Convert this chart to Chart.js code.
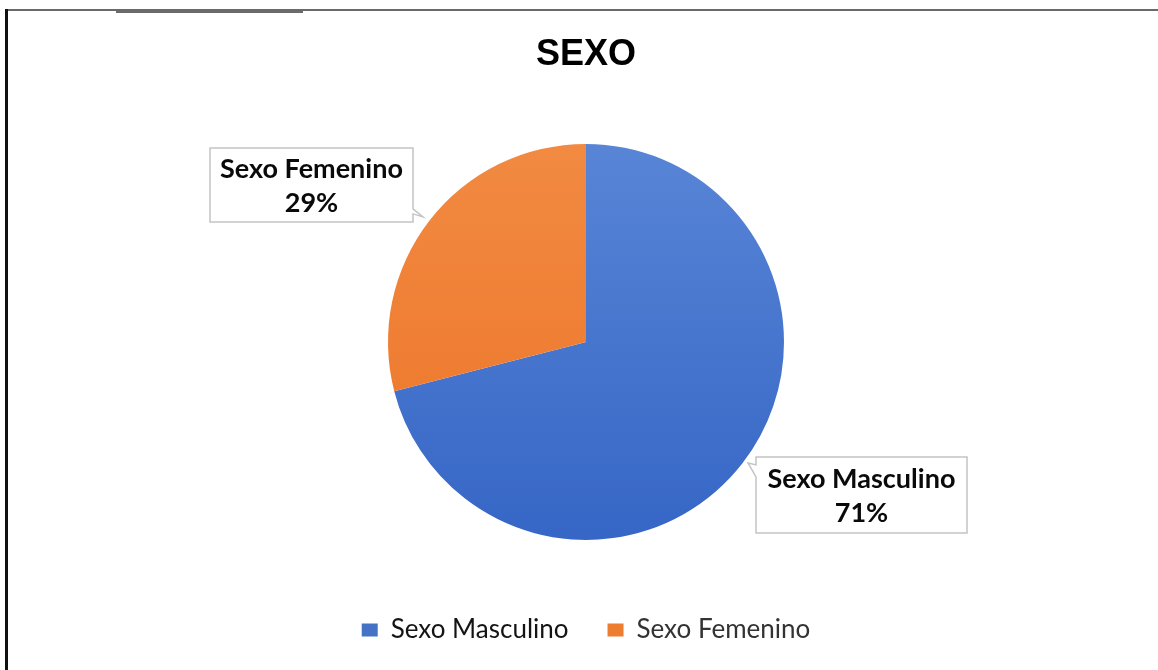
<!DOCTYPE html>
<html>
<head>
<meta charset="utf-8">
<script src="https://cdn.jsdelivr.net/npm/chart.js@4.4.1/dist/chart.umd.min.js"></script>
<style>
  html, body { margin: 0; padding: 0; background: #ffffff; }
  #wrap { width: 1158px; height: 670px; position: relative; }
</style>
</head>
<body>
<div id="wrap"><canvas id="c" width="1158" height="670"></canvas></div>
<script>
// ---- data ----
const chartTitle = 'SEXO';
const categories = ['Sexo Masculino', 'Sexo Femenino'];
const values = [71, 29];
const legendColors = ['#4472C4', '#ED7D31'];
const sliceColorsTop = ['#5885d6', '#f28a42'];
const sliceColorsBottom = ['#3666c6', '#ec7427'];

// ---- plugins ----
const framePlugin = {
  id: 'frame',
  beforeDraw(chart) {
    const ctx = chart.ctx;
    ctx.save();
    ctx.fillStyle = '#ffffff';
    ctx.fillRect(0, 0, chart.width, chart.height);
    ctx.strokeStyle = '#6a6a6a';
    ctx.lineWidth = 2;
    ctx.beginPath(); ctx.moveTo(5, 10); ctx.lineTo(chart.width, 10); ctx.stroke();
    ctx.strokeStyle = '#3a3a3a';
    ctx.lineWidth = 1.5;
    ctx.beginPath(); ctx.moveTo(116, 12); ctx.lineTo(303, 12); ctx.stroke();
    ctx.strokeStyle = '#111111';
    ctx.lineWidth = 3;
    ctx.beginPath(); ctx.moveTo(6.5, 9); ctx.lineTo(6.5, chart.height); ctx.stroke();
    ctx.restore();
  }
};

const calloutPlugin = {
  id: 'callouts',
  afterDatasetsDraw(chart, args, opts) {
    const ctx = chart.ctx;
    const meta = chart.getDatasetMeta(0);
    const data = chart.data.datasets[0].data;
    const total = data.reduce((a, b) => a + b, 0);
    ctx.save();
    meta.data.forEach((arc, i) => {
      const b = opts.boxes[i];
      const cx = arc.x + b.dx, cy = arc.y + b.dy;
      const l = cx - b.w / 2, r = cx + b.w / 2, t = cy - b.h / 2, bt = cy + b.h / 2;
      ctx.beginPath();
      if (b.pointer === 'bottomright') {
        ctx.moveTo(l, t); ctx.lineTo(r, t); ctx.lineTo(r, bt - 13);
        ctx.lineTo(r + 10, bt - 5); ctx.lineTo(r, bt - 8);
        ctx.lineTo(r, bt); ctx.lineTo(l, bt); ctx.closePath();
      } else {
        ctx.moveTo(l, t); ctx.lineTo(r, t); ctx.lineTo(r, bt); ctx.lineTo(l, bt);
        ctx.lineTo(l, t + 20); ctx.lineTo(l - 8, t + 6); ctx.lineTo(l, t + 8);
        ctx.closePath();
      }
      ctx.fillStyle = '#ffffff';
      ctx.fill();
      ctx.strokeStyle = '#c4c4c4';
      ctx.lineWidth = 1.5;
      ctx.stroke();
      ctx.fillStyle = '#0a0a0a';
      ctx.font = 'bold 27px Lato';
      ctx.textAlign = 'center';
      ctx.textBaseline = 'alphabetic';
      const pct = Math.round(data[i] / total * 100) + '%';
      ctx.fillText(chart.data.labels[i], cx, cy - 6.5);
      ctx.fillText(pct, cx, cy + 27);
    });
    ctx.restore();
  }
};

function sliceGradient(context) {
  const chart = context.chart;
  const i = context.dataIndex;
  const area = chart.chartArea;
  if (!area || !isFinite(area.top) || !isFinite(area.bottom)) return sliceColorsTop[i];
  const cy = (area.top + area.bottom) / 2;
  const g = chart.ctx.createLinearGradient(0, cy - 200, 0, cy + 200);
  g.addColorStop(0, sliceColorsTop[i]);
  g.addColorStop(1, sliceColorsBottom[i]);
  return g;
}

new Chart(document.getElementById('c'), {
  type: 'pie',
  data: {
    labels: categories,
    datasets: [{
      data: values,
      backgroundColor: sliceGradient,
      borderWidth: 0,
      radius: 198
    }]
  },
  plugins: [framePlugin, calloutPlugin],
  options: {
    responsive: false,
    animation: false,
    layout: { padding: { top: 10, bottom: 17, left: 14, right: 0 } },
    plugins: {
      tooltip: { enabled: false },
      title: {
        display: true,
        text: chartTitle,
        color: '#000000',
        font: { family: 'Liberation Sans', size: 36, weight: 'bold', lineHeight: 1.2 },
        padding: { top: 23, bottom: 29.6 }
      },
      legend: {
        display: true,
        position: 'bottom',
        labels: {
          font: { family: 'Lato', size: 26 },
          color: '#262626',
          boxWidth: 16,
          boxHeight: 13,
          padding: 39,
          generateLabels(chart) {
            return chart.data.labels.map((lab, i) => ({
              text: lab,
              fillStyle: legendColors[i],
              strokeStyle: 'rgba(0,0,0,0)',
              lineWidth: 0,
              fontColor: i === 0 ? '#141414' : '#333333',
              index: i
            }));
          }
        }
      },
      callouts: {
        boxes: [
          { dx: 275.5, dy: 153, w: 211, h: 76, pointer: 'topleft' },
          { dx: -274.5, dy: -157, w: 203, h: 74, pointer: 'bottomright' }
        ]
      }
    }
  }
});
</script>
</body>
</html>
